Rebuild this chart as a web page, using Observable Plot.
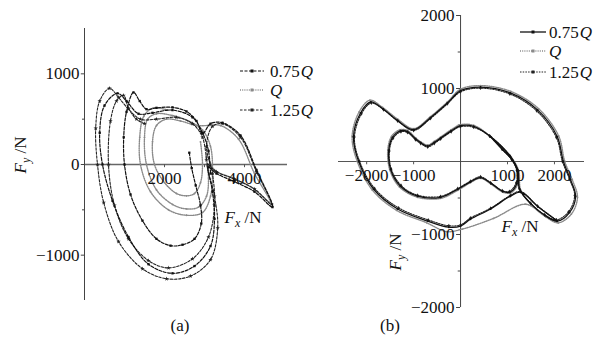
<!DOCTYPE html>
<html><head><meta charset="utf-8">
<script src="https://cdn.jsdelivr.net/npm/d3@7"></script>
<script src="https://cdn.jsdelivr.net/npm/@observablehq/plot@0.6"></script>
<style>
body{margin:0;background:#fff;}
#wrap{position:relative;width:610px;height:338px;overflow:hidden;background:#fff;}
#wrap svg{position:absolute;top:0;overflow:visible;max-width:none;}
</style></head><body><div id="wrap"></div>
<script>
// ---------- data (Fx, Fy in N) ----------
const seriesNames = ["0.75", "", "1.25"];   // legend labels, followed by italic Q

// panel (a)
const aXTicks = [2000, 4000];
const aYTicks = [1000, 0, -1000];
const a075 = [
[2620,130],[2680,-40],[2780,-230],[2900,-450],[2920,-650],[2750,-820],[2450,-885],[2150,-895],[1800,-820],[1450,-620],[1150,-330],[1000,0],[980,300],[1050,580],[1225,795],[1380,700],[1550,610],[1800,625],[2200,630],[2550,585],[2800,480],[2950,340],[3150,450],[3450,460],[3900,320],[4300,-60],[4700,-470],[4250,-300],[3750,-190],[3300,-100],[3100,-30],[3200,-300],[3250,-600],[3150,-900],[2750,-1120],[2200,-1200],[1600,-1100],[1100,-800],[700,-400],[450,0],[380,350],[500,650],[825,785],[1050,700],[1350,560],[1700,570],[2200,600],[2700,520],[2950,350],[3100,150],[3150,-100]
];
const aQ = [
[2900,250],[2950,0],[2900,-200],[2750,-320],[2550,-345],[2300,-320],[2000,-200],[1750,0],[1700,250],[1800,430],[2050,500],[2400,480],[2800,430],[3100,430],[3400,430],[3850,280],[4250,-100],[4650,-420],[4200,-260],[3700,-150],[3250,-60],[3050,100],[3100,-150],[3050,-350],[2850,-470],[2550,-490],[2200,-440],[1800,-280],[1550,0],[1500,300],[1580,500],[1800,560],[2200,540],[2600,480],[2950,380],[3150,200],[3200,-100],[3150,-350],[2950,-530],[2550,-560],[2100,-500],[1650,-300],[1400,0],[1380,300],[1480,530],[1700,620],[2100,600]
];
const a125 = [
[1500,450],[1300,500],[1100,620],[975,762],[800,700],[650,480],[600,0],[750,-450],[1100,-820],[1600,-1060],[2100,-1140],[2700,-1040],[3100,-800],[3250,-450],[3200,-100],[3050,200],[3200,420],[3450,450],[3900,300],[4300,-80],[4680,-440],[4250,-270],[3750,-160],[3300,-80],[3080,0],[3250,-350],[3330,-700],[3150,-1050],[2650,-1230],[2050,-1260],[1450,-1150],[850,-850],[480,-420],[325,0],[280,400],[380,700],[625,840],[850,740],[1100,610],[1400,500],[1800,500],[2300,520],[2700,450],[2950,300],[3050,50]
];

// panel (b)
const bXTicks = [-2000, -1000, 1000, 2000];
const bYTicks = [2000, 1000, -1000, -2000];
const b075 = [
[640,340],[900,160],[1100,20],[1210,-130],[1200,-300],[1050,-420],[900,-410],[650,-300],[425,-220],[210,-280],[-60,-380],[-425,-490],[-915,-475],[-1280,-340],[-1490,-110],[-1530,150],[-1450,330],[-1280,420],[-1130,410],[-960,310],[-850,258],[-700,210],[-560,260],[-425,320],[-200,420],[0,490],[280,480],[640,340],[1060,70],[1220,-120],[1260,-380],[1500,-580],[1800,-740],[2060,-816],[2320,-700],[2450,-475],[2340,-245],[2190,0],[2060,340],[1640,707],[1060,940],[425,1020],[0,970],[-280,800],[-640,600],[-1000,435],[-1340,560],[-1650,720],[-1915,815],[-2130,665],[-2280,340],[-2170,0],[-1850,-380],[-1340,-650],[-700,-816],[-250,-900],[0,-885],[210,-790],[640,-650],[1060,-475],[1280,-420],[1650,-620],[2060,-816]
];
const bQ = [
[660,330],[920,150],[1120,10],[1230,-140],[1220,-310],[1070,-430],[900,-420],[650,-310],[425,-230],[210,-290],[-60,-395],[-425,-505],[-915,-490],[-1300,-350],[-1510,-110],[-1550,160],[-1470,345],[-1290,435],[-1130,425],[-960,325],[-850,270],[-700,225],[-560,275],[-425,335],[-200,435],[0,505],[280,495],[660,330],[1080,60],[1240,-130],[1280,-390],[1520,-600],[1820,-760],[2080,-840],[2360,-720],[2490,-490],[2380,-250],[2220,0],[2090,350],[1660,725],[1070,960],[425,1040],[0,990],[-280,815],[-640,615],[-1000,450],[-1340,580],[-1660,740],[-1930,840],[-2160,680],[-2310,345],[-2200,0],[-1880,-390],[-1360,-670],[-720,-840],[-300,-960],[40,-925],[700,-780],[1380,-585],[1750,-720],[2080,-840]
];
const b125 = [
[620,350],[880,170],[1085,30],[1195,-120],[1185,-290],[1040,-410],[890,-400],[640,-290],[425,-210],[210,-270],[-60,-370],[-425,-478],[-915,-462],[-1265,-330],[-1475,-105],[-1515,145],[-1435,320],[-1270,408],[-1130,398],[-960,298],[-850,248],[-700,198],[-560,248],[-425,308],[-200,408],[0,478],[280,468],[620,350],[1050,80],[1210,-110],[1250,-370],[1490,-570],[1790,-730],[2040,-800],[2300,-690],[2430,-465],[2320,-240],[2170,0],[2040,330],[1620,695],[1050,925],[425,1005],[0,955],[-280,790],[-640,590],[-1000,425],[-1340,555],[-1640,710],[-1900,800],[-2110,655],[-2260,335],[-2150,0],[-1830,-370],[-1320,-635],[-690,-800],[-250,-880],[0,-868],[210,-775],[640,-640],[1060,-465],[1280,-410],[1640,-610],[2040,-800]
];

// ---------- helpers ----------
const FONT = "'Liberation Serif', 'Times New Roman', Tinos, Times, serif";
const fmt = d => d < 0 ? "\u2212" + Math.abs(d) : String(d);
const X = d => d[0], Y = d => d[1];

function seriesMarks(data, st) {
  const m = [Plot.line(data, {x: X, y: Y, curve: "catmull-rom", stroke: st.color, strokeWidth: st.width, strokeDasharray: st.dash})];
  if (st.symbol) m.push(Plot.dot(data, {x: X, y: Y, r: st.r, symbol: st.symbol, fill: st.color, stroke: "none"}));
  return m;
}

function addTitle(svg, cx, cy, sub, rotate) {
  const t = d3.select(svg).append("text")
    .attr("transform", `translate(${cx},${cy})` + (rotate ? " rotate(-90)" : ""))
    .attr("text-anchor", "middle").style("font-family", FONT).attr("font-size", 17)
    .attr("dy", "0.35em").attr("fill", "#111");
  t.append("tspan").attr("font-style", "italic").text("F");
  t.append("tspan").attr("font-style", "italic").attr("font-size", 12).attr("dy", 4).text(sub);
  t.append("tspan").attr("dy", -4).text(" /N");
}

function addText(svg, cx, cy, txt) {
  d3.select(svg).append("text").attr("x", cx).attr("y", cy).attr("dy", "0.35em")
    .attr("text-anchor", "middle").style("font-family", FONT).attr("font-size", 17).attr("fill", "#111").text(txt);
}

function addLegend(svg, x1, x2, tx, rows, styles) {
  const g = d3.select(svg).append("g");
  rows.forEach((y, i) => {
    const st = styles[i];
    g.append("line").attr("x1", x1).attr("x2", x2).attr("y1", y).attr("y2", y)
      .attr("stroke", st.color).attr("stroke-width", st.width).attr("stroke-dasharray", st.dash || null);
    g.append("rect").attr("x", (x1 + x2) / 2 - 1.5).attr("y", y - 1.5).attr("width", 3).attr("height", 3).attr("fill", st.color);
    const t = g.append("text").attr("x", tx).attr("y", y).attr("dy", "0.35em")
      .attr("text-anchor", "start").style("font-family", FONT).attr("font-size", 17).attr("fill", "#111");
    if (seriesNames[i]) t.append("tspan").text(seriesNames[i]);
    t.append("tspan").attr("font-style", "italic").attr("dx", seriesNames[i] ? 1 : 0).text("Q");
  });
}

const wrap = document.getElementById("wrap");
const baseStyle = {fontFamily: FONT, fontSize: "17px", background: "transparent", color: "#111", overflow: "visible"};

// ---------- panel (a) ----------
const stA = [
  {color: "#111", width: 1.2, dash: "3,1.5", symbol: "square", r: 1.3},
  {color: "#8a8a8a", width: 1.4, dash: "1,1.2", symbol: "circle", r: 0.9},
  {color: "#222", width: 1.1, dash: "2.5,1.5", symbol: "star", r: 1.4}
];
const plotA = Plot.plot({
  width: 305, height: 338,
  marginLeft: 84, marginRight: 21, marginTop: 28, marginBottom: 38,
  x: {domain: [0, 5000], axis: null},
  y: {domain: [-1500, 1500], axis: null},
  style: baseStyle,
  marks: [
    Plot.ruleY([0], {x1: 0, x2: 5075, stroke: "#666", strokeWidth: 1.4}),
    Plot.ruleX([0], {y1: -1500, y2: 1500, stroke: "#444", strokeWidth: 1}),
    Plot.ruleY(aYTicks, {x1: 0, x2: -80, stroke: "#444"}),
    Plot.ruleY([500, -500], {x1: 0, x2: -50, stroke: "#444"}),
    Plot.ruleX([1000, 2000, 3000, 4000], {y1: 0, y2: -35, stroke: "#555"}),
    ...seriesMarks(aQ, stA[1]),
    ...seriesMarks(a125, stA[2]),
    ...seriesMarks(a075, stA[0]),
    Plot.text(aYTicks, {x: 0, y: d => d, text: fmt, textAnchor: "end", dx: -5, fontSize: 17, fill: "#111"}),
    Plot.text(aXTicks, {x: d => d, y: 0, text: fmt, dy: 14, fontSize: 17, fill: "#111"})
  ]
});
plotA.style.left = "0px";
addTitle(plotA, 243, 217, "x", false);
addTitle(plotA, 20, 155, "y", true);
addText(plotA, 180, 325, "(a)");
addLegend(plotA, 240, 264, 270, [71, 90, 110], stA);

// ---------- panel (b) ----------
const stB = [
  {color: "#111", width: 1.3, dash: null, symbol: "circle", r: 1.0},
  {color: "#8a8a8a", width: 1.4, dash: "1,1.2", symbol: "circle", r: 0.9},
  {color: "#222", width: 1.1, dash: "1.5,1.2", symbol: "diamond", r: 1.2}
];
const plotB = Plot.plot({
  width: 305, height: 338,
  marginLeft: 33, marginRight: 26, marginTop: 15, marginBottom: 31,
  x: {domain: [-2600, 2640], axis: null},
  y: {domain: [-2000, 2000], axis: null},
  style: baseStyle,
  marks: [
    Plot.ruleY([0], {x1: -2600, x2: 2640, stroke: "#555", strokeWidth: 1.2}),
    Plot.ruleX([0], {y1: -2000, y2: 2000, stroke: "#444", strokeWidth: 1}),
    Plot.ruleY(bYTicks, {x1: 0, x2: -85, stroke: "#444"}),
    Plot.ruleY([1500, 500, -500, -1500], {x1: 0, x2: -50, stroke: "#444"}),
    Plot.ruleX(bXTicks, {y1: 0, y2: -45, stroke: "#555"}),
    ...seriesMarks(bQ, stB[1]),
    ...seriesMarks(b125, stB[2]),
    ...seriesMarks(b075, stB[0]),
    Plot.text(bYTicks, {x: 0, y: d => d, text: fmt, textAnchor: "end", dx: -6, fontSize: 17, fill: "#111"}),
    Plot.text(bXTicks, {x: d => d, y: 0, text: fmt, dy: 14, fontSize: 17, fill: "#111"})
  ]
});
plotB.style.left = "305px";
addTitle(plotB, 215, 226, "x", false);
addTitle(plotB, 90, 252, "y", true);
addText(plotB, 85, 325, "(b)");
addLegend(plotB, 215, 241, 244, [32, 51, 72], stB);

wrap.appendChild(plotB);
wrap.appendChild(plotA);
</script></body></html>
